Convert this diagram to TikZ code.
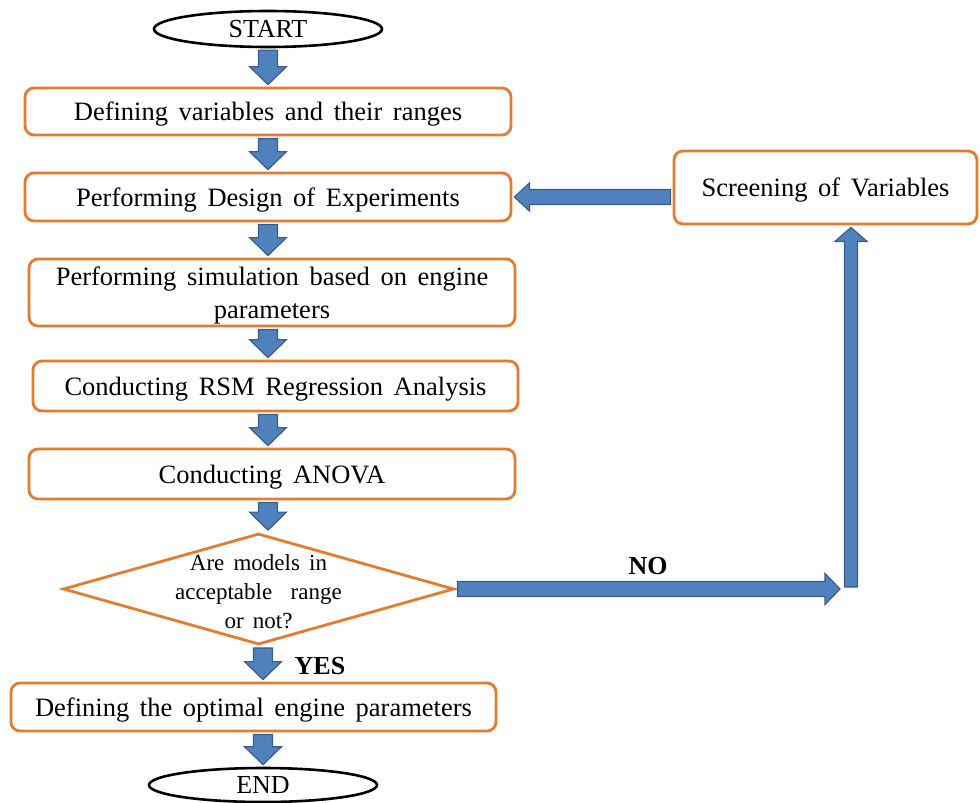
\documentclass[tikz,border=0pt]{standalone}
\usepackage{fontspec}
\setmainfont[WordSpace=1.6]{Liberation Serif}
\usetikzlibrary{shapes.geometric,calc}
\definecolor{boxor}{RGB}{228,123,46}
\definecolor{arrfill}{RGB}{79,129,189}
\definecolor{arrline}{RGB}{56,93,138}
% block arrow: from #1 to #2, shaft half width #3, head half width #4, head length #5
\newcommand\barrow[5]{%
  \coordinate (ba) at ($(#1)!2pt!(#2)$);
  \coordinate (bb) at ($(#2)!2pt!(#1)$);
  \coordinate (bh) at ($(bb)!#5!(ba)$);
  \draw[blockarrow] ($(ba)!#3!90:(bb)$) -- ($(bh)!#3!90:(bb)$) -- ($(bh)!#4!90:(bb)$)
    -- (bb) -- ($(bh)!#4!-90:(bb)$) -- ($(bh)!#3!-90:(bb)$) -- ($(ba)!#3!-90:(bb)$) -- cycle;
}
\begin{document}
\begin{tikzpicture}[x=1pt,y=-1pt,
  proc/.style={draw=boxor, line width=2.8pt, rounded corners=9pt, fill=white,
    inner sep=0pt, align=center, text depth=0pt, font=\fontsize{26.5}{33}\selectfont},
  term/.style={draw=black, line width=2.6pt, ellipse, fill=white, inner sep=0pt,
    font=\fontsize{26}{30}\selectfont},
  decision/.style={draw=boxor, line width=2.8pt, diamond, fill=white, inner sep=0pt},
  blockarrow/.style={fill=arrfill, draw=arrline, line width=1.2pt, line join=miter},
  yn/.style={font=\bfseries\fontsize{26}{30}\selectfont}]
\useasboundingbox (0,0) rectangle (980,803);

\node[term, minimum width=228pt, minimum height=36pt] (start) at (268,29) {START};
\node[proc, minimum width=486pt, minimum height=47pt] (b1) at (268,111.5) {Defining variables and their ranges};
\node[proc, minimum width=486pt, minimum height=48pt] (b2) at (268,197) {Performing Design of Experiments};
\node[proc, minimum width=486pt, minimum height=67pt] (b3) at (272,292.5) {Performing simulation based on engine\\parameters};
\node[proc, minimum width=485pt, minimum height=50pt] (b4) at (275.5,386) {Conducting RSM Regression Analysis};
\node[proc, minimum width=486pt, minimum height=50pt] (b5) at (272,474) {Conducting ANOVA};
\node[decision, minimum width=391pt, minimum height=111pt,
  label={[align=center, yshift=-3pt, font=\fontsize{23}{29}\selectfont]center:Are models in\\acceptable\ \ range\\or not?}] (dia) at (258.5,589) {};
\node[proc, minimum width=485pt, minimum height=48pt] (b6) at (253.5,707) {Defining the optimal engine parameters};
\node[term, minimum width=228pt, minimum height=34pt] (endn) at (263,785) {END};
\node[proc, minimum width=303pt, minimum height=73pt] (scr) at (825.5,187.5) {Screening of Variables};

\node[yn] (yes) at (320,666) {YES};
\node[yn] (no) at (648,566) {NO};

\coordinate (noend) at (842,589);
\coordinate (upstart) at (851,589);

\barrow{start |- start.south}{start |- b1.north}{9.5pt}{18.5pt}{18pt}
\barrow{start |- b1.south}{start |- b2.north}{9.5pt}{18.5pt}{18pt}
\barrow{start |- b2.south}{start |- b3.north}{9.5pt}{18.5pt}{18pt}
\barrow{start |- b3.south}{start |- b4.north}{9.5pt}{18.5pt}{18pt}
\barrow{start |- b4.south}{start |- b5.north}{9.5pt}{18.5pt}{18pt}
\barrow{start |- b5.south}{start |- dia.north}{9.5pt}{18.5pt}{18pt}
\barrow{endn |- dia.south}{endn |- b6.north}{9.5pt}{18.5pt}{18pt}
\barrow{endn |- b6.south}{endn.north}{9.5pt}{18.5pt}{18pt}
\barrow{dia.east}{noend}{7.5pt}{15.5pt}{15pt}
\barrow{upstart}{upstart |- scr.south}{6.5pt}{16pt}{14pt}
\barrow{scr.west |- b2.east}{b2.east}{7.5pt}{14pt}{15pt}
\end{tikzpicture}
\end{document}
